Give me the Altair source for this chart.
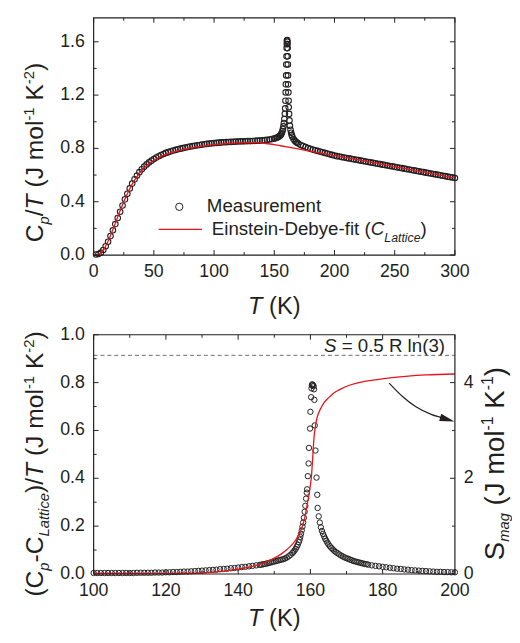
import altair as alt
import pandas as pd

FONT = "Liberation Sans"
INK = "#231f20"
RED = "#e8141b"

# ---------------- top panel data : Cp/T vs T ----------------
top_T = [2, 4, 6, 8, 10, 12, 14, 16, 18, 20, 22, 24, 26, 28, 30, 32, 34, 36, 38, 40,
         42, 44, 46, 48, 50, 52, 54, 56, 58, 60, 62, 64, 66, 68, 70, 72, 74, 76, 78, 80,
         82, 84, 86, 88, 90, 92, 94, 96, 98, 100, 102, 104, 106, 108, 110, 112, 114, 116, 118, 120,
         122, 124, 126, 128, 130, 132, 134, 136, 138, 140, 142, 144, 146, 148, 150,
         151, 152, 153, 154, 155, 155.6, 156.2, 156.8, 157.2, 157.6, 158.0, 158.4, 158.8, 159.1,
         159.3, 159.5, 159.6, 159.9, 160.0, 160.2, 160.3, 160.4, 160.5, 160.7, 160.9, 161.0,
         161.1, 161.2, 161.3, 161.4, 161.5, 161.7, 161.9, 162.0, 162.3, 162.6, 163.0, 163.5,
         164, 164.5, 165, 166, 167, 168, 169,
         170, 172, 174, 176, 178, 180, 182, 184, 186, 188, 190, 192, 194, 196, 198, 200,
         202, 204, 206, 208, 210, 212, 214, 216, 218, 220, 222, 224, 226, 228, 230, 232,
         234, 236, 238, 240, 242, 244, 246, 248, 250, 252, 254, 256, 258, 260, 262, 264,
         266, 268, 270, 272, 274, 276, 278, 280, 282, 284, 286, 288, 290, 292, 294, 296, 298, 300]
top_cpT = [0.004, 0.008, 0.018, 0.038, 0.066, 0.100, 0.142, 0.186, 0.232, 0.278, 0.325, 0.372, 0.418, 0.460, 0.500, 0.536, 0.568, 0.597, 0.622, 0.644,
           0.663, 0.680, 0.695, 0.708, 0.720, 0.731, 0.741, 0.750, 0.758, 0.766, 0.772, 0.778, 0.784, 0.789, 0.794, 0.798, 0.802, 0.806, 0.810, 0.814,
           0.817, 0.820, 0.823, 0.826, 0.829, 0.831, 0.834, 0.836, 0.838, 0.840, 0.842, 0.843, 0.845, 0.846, 0.847, 0.848, 0.849, 0.850, 0.851, 0.852,
           0.853, 0.853, 0.854, 0.855, 0.855, 0.856, 0.857, 0.858, 0.859, 0.860, 0.862, 0.864, 0.867, 0.870, 0.874,
           0.877, 0.880, 0.884, 0.890, 0.897, 0.905, 0.916, 0.930, 0.945, 0.965, 0.990, 1.020, 1.060, 1.100,
           1.158, 1.220, 1.281, 1.348, 1.430, 1.491, 1.553, 1.583, 1.607, 1.612, 1.600, 1.583,
           1.553, 1.491, 1.430, 1.348, 1.281, 1.220, 1.158, 1.109, 1.059, 1.010, 0.970, 0.940,
           0.917, 0.900, 0.888, 0.870, 0.858, 0.849, 0.842,
           0.836, 0.826, 0.818, 0.810, 0.803, 0.797, 0.791, 0.786, 0.781, 0.776, 0.771, 0.766, 0.761, 0.756, 0.751, 0.746,
           0.742, 0.739, 0.735, 0.732, 0.728, 0.725, 0.722, 0.718, 0.715, 0.712, 0.708, 0.705, 0.702, 0.698, 0.695, 0.692,
           0.688, 0.685, 0.682, 0.678, 0.675, 0.672, 0.668, 0.665, 0.662, 0.658, 0.655, 0.652, 0.648, 0.645, 0.642, 0.638,
           0.635, 0.632, 0.628, 0.625, 0.622, 0.618, 0.615, 0.612, 0.608, 0.605, 0.602, 0.598, 0.595, 0.592, 0.588, 0.585, 0.582, 0.578]

fit_T = [0, 3, 5, 7, 9, 11, 13, 15, 17, 19, 21, 23, 25, 28, 31, 34, 37, 40, 44, 48, 52, 56, 60,
         65, 70, 75, 80, 85, 90, 95, 100, 110, 120, 130, 136, 145, 155, 165, 175, 185, 195, 205,
         220, 240, 260, 280, 300]
fit_cpT = [0.0, 0.002, 0.010, 0.025, 0.050, 0.085, 0.125, 0.170, 0.215, 0.262, 0.310, 0.355, 0.400,
           0.460, 0.515, 0.562, 0.602, 0.635, 0.672, 0.700, 0.722, 0.740, 0.755,
           0.770, 0.782, 0.793, 0.802, 0.810, 0.817, 0.823, 0.828, 0.836, 0.841, 0.843, 0.843,
           0.835, 0.820, 0.804, 0.788, 0.771, 0.755, 0.738, 0.714, 0.680, 0.646, 0.612, 0.578]

# ---------------- bottom panel data ----------------
mag_T = [100, 101, 102, 103, 104, 105, 106, 107, 108, 109, 110, 111, 112, 113, 114, 115, 116, 117, 118, 119,
         120, 121, 122, 123, 124, 125, 126, 127, 128, 129, 130, 131, 132, 133, 134, 135, 136, 137, 138, 139,
         140, 141, 142, 143, 144, 145, 146, 146.5, 147, 147.5, 148, 148.5, 149, 149.5, 150, 150.5, 151,
         151.5, 152, 152.5, 153, 153.5, 154, 154.5, 155, 155.3, 155.6, 155.9, 156.2, 156.5, 156.8, 157.0,
         157.2, 157.4, 157.6, 157.8, 158.0, 158.2, 158.4, 158.6, 158.8, 159.0, 159.1, 159.3, 159.5, 159.6,
         159.9, 160.0, 160.2, 160.3, 160.4, 160.5, 160.7, 160.9, 161.0, 161.1, 161.2, 161.4, 161.7, 161.9,
         162.0, 162.3, 162.6, 162.9, 163.2, 163.5, 163.8, 164.1, 164.4, 164.7, 165.0, 165.4, 165.8, 166.2,
         166.6, 167.0, 167.5, 168.0, 168.5, 169.0, 169.5, 170.0, 170.5, 171.0, 171.5, 172.0, 172.5, 173.0,
         173.5, 174.0, 174.5, 175.0, 175.5, 176.0, 177, 178, 179, 180, 181, 182, 183, 184, 185, 186, 187,
         188, 189, 190, 191, 192, 193, 194, 195, 196, 197, 198, 199, 200]
mag_val = [0.004, 0.004, 0.004, 0.004, 0.004, 0.004, 0.004, 0.004, 0.004, 0.004, 0.004, 0.004, 0.005, 0.005, 0.005, 0.005, 0.005, 0.006, 0.006, 0.006,
           0.007, 0.007, 0.008, 0.008, 0.009, 0.010, 0.010, 0.011, 0.012, 0.013, 0.014, 0.015, 0.016, 0.017, 0.018, 0.020, 0.021, 0.022, 0.024, 0.025,
           0.027, 0.029, 0.030, 0.032, 0.034, 0.036, 0.038, 0.039, 0.041, 0.042, 0.044, 0.046, 0.048, 0.050, 0.052, 0.054, 0.056,
           0.058, 0.060, 0.062, 0.065, 0.069, 0.074, 0.080, 0.087, 0.092, 0.098, 0.105, 0.113, 0.122, 0.133, 0.143,
           0.155, 0.168, 0.182, 0.198, 0.215, 0.235, 0.260, 0.285, 0.315, 0.340, 0.354, 0.409, 0.462, 0.527,
           0.608, 0.678, 0.739, 0.776, 0.788, 0.793, 0.790, 0.785, 0.772, 0.728, 0.621, 0.516, 0.403, 0.331,
           0.276, 0.241, 0.215, 0.195, 0.180, 0.168, 0.157, 0.147, 0.139, 0.131, 0.124, 0.116, 0.109, 0.103,
           0.097, 0.092, 0.087, 0.082, 0.077, 0.073, 0.069, 0.066, 0.063, 0.060, 0.057, 0.054, 0.052, 0.050,
           0.048, 0.046, 0.044, 0.042, 0.041, 0.039, 0.036, 0.034, 0.032, 0.030, 0.028, 0.026, 0.024, 0.022, 0.021, 0.019, 0.018,
           0.016, 0.015, 0.014, 0.013, 0.012, 0.011, 0.010, 0.009, 0.009, 0.008, 0.008, 0.007, 0.007]

smag_T = [100, 105, 110, 115, 120, 125, 128, 131, 134, 137, 140, 142, 144, 146, 148, 150, 152, 153.5,
          155, 156, 157, 157.8, 158.5, 159.1, 159.6, 160.0, 160.3, 160.5, 160.7, 160.9, 161.1, 161.4,
          161.8, 162.3, 163, 163.7, 165, 166.4, 168.5, 171, 174, 177.3, 181, 186.4, 192, 200]
smag_val = [0.01, 0.01, 0.01, 0.01, 0.012, 0.015, 0.02, 0.03, 0.045, 0.07, 0.10, 0.125, 0.16, 0.20, 0.26,
            0.33, 0.42, 0.51, 0.62, 0.72, 0.85, 1.00, 1.20, 1.45, 1.65, 1.86, 2.05, 2.27, 2.52, 2.75, 2.93,
            3.09, 3.25, 3.37, 3.48, 3.57, 3.68, 3.78, 3.87, 3.95, 4.01, 4.05, 4.09, 4.13, 4.16, 4.18]

S_LIMIT = [4.57]          # 0.5 R ln(3) on the right-hand axis
arrow_T = [181.8, 185.5, 189.1, 193.6, 197.3]
arrow_S = [3.99, 3.71, 3.50, 3.33, 3.25]
head_T = [197.9]
head_S = [3.23]

TOP_X_MAJOR = [0, 50, 100, 150, 200, 250, 300]
TOP_X_MINOR = [25, 75, 125, 175, 225, 275]
TOP_Y_MAJOR = [0.0, 0.4, 0.8, 1.2, 1.6]
TOP_Y_MINOR = [0.2, 0.6, 1.0, 1.4]
BOT_X_MAJOR = [100, 120, 140, 160, 180, 200]
BOT_X_MINOR = [110, 130, 150, 170, 190]
BOT_Y_MAJOR = [0.0, 0.2, 0.4, 0.6, 0.8, 1.0]
BOT_Y_MINOR = [0.1, 0.3, 0.5, 0.7, 0.9]
BOT_R_MAJOR = [0, 2, 4]
BOT_R_MINOR = [1, 3]

# ---------------- layout (pixels, origin = top-left of the upper plot) ----------------
W = 367
T0, T1 = 0, 241        # upper panel top / bottom
B0, B1 = 322, 565      # lower panel top / bottom
MAJ = 5
MIN = 3
LAB = 18

ONE = pd.DataFrame({"k": [0]})

ARIAL = {' ': 278, '(': 333, ')': 333, '-': 333, '/': 278, '.': 278, '=': 584,
         '0': 556, '1': 556, '2': 556, '3': 556, '4': 556, '5': 556, '6': 556, '7': 556, '8': 556, '9': 556,
         'C': 722, 'D': 722, 'E': 667, 'J': 500, 'K': 667, 'L': 556, 'M': 833, 'R': 722, 'S': 667, 'T': 611,
         'a': 556, 'b': 556, 'c': 500, 'd': 556, 'e': 556, 'f': 278, 'g': 556, 'h': 556, 'i': 222,
         'l': 222, 'm': 833, 'n': 556, 'o': 556, 'p': 556, 'r': 333, 's': 500, 't': 278, 'u': 556, 'y': 500}


def tw(s, size):
    return sum(ARIAL.get(c, 556) for c in s) * size / 1000.0


def rich(segments, x, y, angle=0, center=False):
    """Runs of text with their own size / style / baseline shift, laid side by side."""
    total = sum(tw(t, s) for t, s, _, _ in segments)
    pos = -total / 2.0 if center else 0.0
    out = []
    for txt, size, italic, shift in segments:
        lead = len(txt) - len(txt.lstrip(" "))
        out.append(
            alt.Chart(ONE).mark_text(
                text=txt.strip(" "), font=FONT, fontSize=size,
                fontStyle="italic" if italic else "normal",
                align="left", baseline="alphabetic", angle=angle,
                dx=round(pos + lead * tw(" ", size), 2), dy=shift, color=INK,
            ).encode(x=alt.value(x), y=alt.value(y))
        )
        pos += tw(txt, size)
    return out


def ticks(values, scale, side, length, y0, y1):
    base = alt.Chart(pd.DataFrame({"v": values})).mark_rule(color=INK, strokeWidth=1)
    if side == "bottom":
        return base.encode(x=alt.X("v:Q", scale=scale, axis=None), y=alt.value(y1), y2=alt.value(y1 - length))
    if side == "top":
        return base.encode(x=alt.X("v:Q", scale=scale, axis=None), y=alt.value(y0), y2=alt.value(y0 + length))
    if side == "left":
        return base.encode(y=alt.Y("v:Q", scale=scale, axis=None), x=alt.value(0), x2=alt.value(length))
    return base.encode(y=alt.Y("v:Q", scale=scale, axis=None), x=alt.value(W), x2=alt.value(W - length))


def labels(values, scale, side, fmt, y1):
    df = pd.DataFrame({"v": values})
    if side == "bottom":
        return alt.Chart(df).mark_text(font=FONT, fontSize=LAB, color=INK, align="center", baseline="top").encode(
            x=alt.X("v:Q", scale=scale, axis=None), y=alt.value(y1 + 8), text=alt.Text("v:Q", format=fmt))
    if side == "left":
        return alt.Chart(df).mark_text(font=FONT, fontSize=LAB, color=INK, align="right", baseline="middle").encode(
            y=alt.Y("v:Q", scale=scale, axis=None), x=alt.value(-9), text=alt.Text("v:Q", format=fmt))
    return alt.Chart(df).mark_text(font=FONT, fontSize=LAB, color=INK, align="left", baseline="middle").encode(
        y=alt.Y("v:Q", scale=scale, axis=None), x=alt.value(W + 9), text=alt.Text("v:Q", format=fmt))


def frame(y0, y1):
    return alt.Chart(ONE).mark_rect(fillOpacity=0, stroke=INK, strokeWidth=1.2).encode(
        x=alt.value(0), x2=alt.value(W), y=alt.value(y0), y2=alt.value(y1))


# ---------------- upper panel ----------------
xs_top = alt.Scale(domain=[0, 300], range=[0, W], nice=False, zero=False)
ys_top = alt.Scale(domain=[0, 1.78], range=[T1, T0], nice=False, zero=False)

top_meas = alt.Chart(pd.DataFrame({"T": top_T, "v": top_cpT})).mark_point(
    shape="circle", filled=False, size=32, color=INK, strokeWidth=1.1, opacity=1
).encode(x=alt.X("T:Q", scale=xs_top, axis=None), y=alt.Y("v:Q", scale=ys_top, axis=None))
top_fit = alt.Chart(pd.DataFrame({"T": fit_T, "v": fit_cpT})).mark_line(
    color=RED, strokeWidth=1.3, interpolate="monotone"
).encode(x=alt.X("T:Q", scale=xs_top, axis=None), y=alt.Y("v:Q", scale=ys_top, axis=None))

top_layers = [top_meas, top_fit,
              ticks(TOP_X_MAJOR, xs_top, "bottom", MAJ, T0, T1), ticks(TOP_X_MINOR, xs_top, "bottom", MIN, T0, T1),
              ticks(TOP_X_MAJOR, xs_top, "top", MAJ, T0, T1), ticks(TOP_X_MINOR, xs_top, "top", MIN, T0, T1),
              ticks(TOP_Y_MAJOR, ys_top, "left", MAJ, T0, T1), ticks(TOP_Y_MINOR, ys_top, "left", MIN, T0, T1),
              ticks(TOP_Y_MAJOR, ys_top, "right", MAJ, T0, T1), ticks(TOP_Y_MINOR, ys_top, "right", MIN, T0, T1),
              labels(TOP_X_MAJOR, xs_top, "bottom", "d", T1),
              labels(TOP_Y_MAJOR, ys_top, "left", ".1f", T1),
              frame(T0, T1)]

# legend
top_layers.append(alt.Chart(ONE).mark_point(shape="circle", filled=False, size=55, color=INK,
                                            strokeWidth=1, opacity=1)
                  .encode(x=alt.value(87), y=alt.value(192)))
top_layers.append(alt.Chart(ONE).mark_rule(color=RED, strokeWidth=1.3)
                  .encode(x=alt.value(66), x2=alt.value(110), y=alt.value(215)))
top_layers += rich([("Measurement", 19, False, 0)], 115, 197)
top_layers += rich([("Einstein-Debye-fit (", 19, False, 0), ("C", 19, True, 0),
                    ("Lattice", 12.5, True, 7), (")", 19, False, 0)], 120, 221)
# axis titles
top_layers += rich([("C", 25, False, 0), ("p", 15, True, 6), ("/", 25, False, 0), ("T", 25, True, 0),
                    (" (J mol", 25, False, 0), ("-1", 15, False, -10), (" K", 25, False, 0),
                    ("-2", 15, False, -10), (")", 25, False, 0)], -51, 228, angle=270)
top_layers += rich([("T", 24, True, 0), (" (K)", 24, False, 0)], W / 2, T1 + 60, center=True)

top_group = alt.layer(*top_layers)

# ---------------- lower panel ----------------
xs_bot = alt.Scale(domain=[100, 200], range=[0, W], nice=False, zero=False)
ys_left = alt.Scale(domain=[0, 1.0], range=[B1, B0], nice=False, zero=False)
ys_right = alt.Scale(domain=[0, 5.0], range=[B1, B0], nice=False, zero=False)

mag_pts = alt.Chart(pd.DataFrame({"T": mag_T, "v": mag_val})).mark_point(
    shape="circle", filled=False, size=30, color=INK, strokeWidth=1, opacity=1
).encode(x=alt.X("T:Q", scale=xs_bot, axis=None), y=alt.Y("v:Q", scale=ys_left, axis=None))

left_list = [mag_pts,
             ticks(BOT_X_MAJOR, xs_bot, "bottom", MAJ, B0, B1), ticks(BOT_X_MINOR, xs_bot, "bottom", MIN, B0, B1),
             ticks(BOT_X_MAJOR, xs_bot, "top", MAJ, B0, B1), ticks(BOT_X_MINOR, xs_bot, "top", MIN, B0, B1),
             ticks(BOT_Y_MAJOR, ys_left, "left", MAJ, B0, B1), ticks(BOT_Y_MINOR, ys_left, "left", MIN, B0, B1),
             labels(BOT_X_MAJOR, xs_bot, "bottom", "d", B1),
             labels(BOT_Y_MAJOR, ys_left, "left", ".1f", B1)]
left_list += rich([("(C", 25, False, 0), ("p", 15, True, 6), ("-C", 25, False, 0), ("Lattice", 15, True, 6),
                   (")/", 25, False, 0), ("T", 25, True, 0), (" (J mol", 25, False, 0), ("-1", 15, False, -10),
                   (" K", 25, False, 0), ("-2", 15, False, -10), (")", 25, False, 0)], -51, B0 + 266, angle=270)
left_list += rich([("T", 24, True, 0), (" (K)", 24, False, 0)], W / 2, B1 + 53, center=True)
left_list += rich([("S", 19, True, 0), (" = 0.5 R ln(3)", 19, False, 0)], 234, B0 + 18)
left_list += rich([("S", 28, False, 0), ("mag", 15, True, 5), (" (J mol", 28, False, 0), ("-1", 16, False, -11),
                   (" K", 28, False, 0), ("-1", 16, False, -11), (")", 28, False, 0)], W + 50, B0 + 229, angle=270)
left_group = alt.layer(*left_list)

smag_line = alt.Chart(pd.DataFrame({"T": smag_T, "S": smag_val})).mark_line(
    color=RED, strokeWidth=1.3, interpolate="monotone"
).encode(x=alt.X("T:Q", scale=xs_bot, axis=None), y=alt.Y("S:Q", scale=ys_right, axis=None))
limit_rule = alt.Chart(pd.DataFrame({"S": S_LIMIT})).mark_rule(
    color="#6d6e70", strokeWidth=1, strokeDash=[4, 3]
).encode(x=alt.value(0), x2=alt.value(W), y=alt.Y("S:Q", scale=ys_right, axis=None))
arrow = alt.Chart(pd.DataFrame({"T": arrow_T, "S": arrow_S})).mark_line(
    color=INK, strokeWidth=1.2, interpolate="monotone"
).encode(x=alt.X("T:Q", scale=xs_bot, axis=None), y=alt.Y("S:Q", scale=ys_right, axis=None))
head = alt.Chart(pd.DataFrame({"T": head_T, "S": head_S})).mark_point(
    shape="M-1,-0.5L1,0L-1,0.5Z", filled=True, size=225, angle=16, color=INK, opacity=1
).encode(x=alt.X("T:Q", scale=xs_bot, axis=None), y=alt.Y("S:Q", scale=ys_right, axis=None))

right_group = alt.layer(
    smag_line, limit_rule, arrow, head,
    ticks(BOT_R_MAJOR, ys_right, "right", MAJ, B0, B1), ticks(BOT_R_MINOR, ys_right, "right", MIN, B0, B1),
    labels(BOT_R_MAJOR, ys_right, "right", "d", B1),
    frame(B0, B1),
)

chart = alt.layer(top_group, left_group, right_group).resolve_scale(
    x="independent", y="independent"
).properties(
    width=512, height=625,
    autosize=alt.AutoSizeParams(type="fit", contains="padding"),
    padding={"left": 13, "top": 4, "right": 0, "bottom": 0},
).configure_view(stroke="transparent")

chart.save("out.html", embed_options={"renderer": "svg", "actions": False})
